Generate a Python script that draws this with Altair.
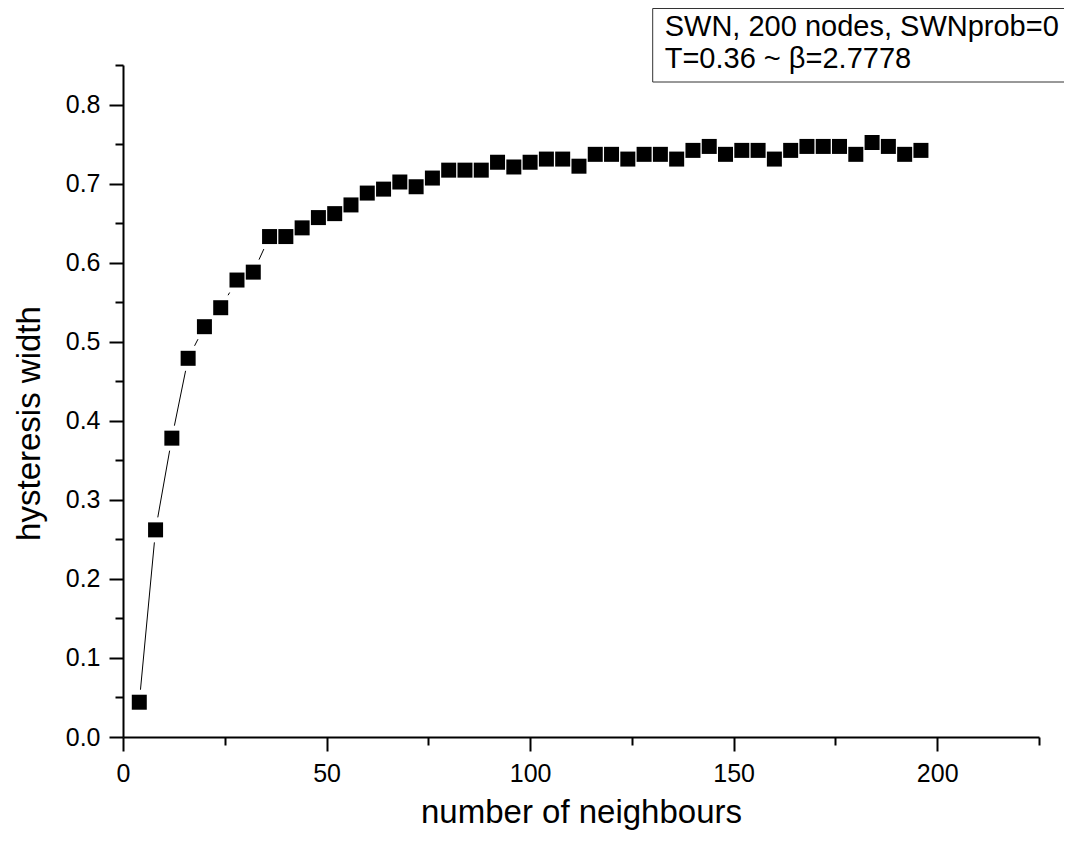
import altair as alt
import pandas as pd

# ---- data ----
neighbours = [4, 8, 12, 16, 20, 24, 28, 32, 36, 40, 44, 48, 52, 56, 60, 64, 68,
              72, 76, 80, 84, 88, 92, 96, 100, 104, 108, 112, 116, 120, 124, 128,
              132, 136, 140, 144, 148, 152, 156, 160, 164, 168, 172, 176, 180, 184,
              188, 192, 196]
hyst_width = [0.044, 0.262, 0.378, 0.479, 0.519, 0.543, 0.578, 0.588, 0.633, 0.633,
              0.644, 0.657, 0.662, 0.673, 0.688, 0.693, 0.702, 0.696, 0.707, 0.717,
              0.717, 0.717, 0.727, 0.721, 0.727, 0.731, 0.731, 0.722, 0.737, 0.737,
              0.731, 0.737, 0.737, 0.731, 0.742, 0.747, 0.737, 0.742, 0.742, 0.731,
              0.742, 0.747, 0.747, 0.747, 0.737, 0.752, 0.747, 0.737, 0.742]
x_ticks = [0, 25, 50, 75, 100, 125, 150, 175, 200, 225]
y_ticks = [0.0, 0.05, 0.1, 0.15, 0.2, 0.25, 0.3, 0.35, 0.4, 0.45, 0.5, 0.55,
           0.6, 0.65, 0.7, 0.75, 0.8, 0.85]
legend_lines = ["SWN, 200 nodes, SWNprob=0", "T=0.36 ~ \u03b2=2.7778"]

FONT = "Liberation Sans"
W, H = 916, 672
TOTAL_W, TOTAL_H = 1056, 822
PAD_L, PAD_T = 115, 57

df = pd.DataFrame({"n": neighbours, "w": hyst_width})

x_axis = alt.Axis(
    values=x_ticks,
    labelExpr="datum.value % 50 == 0 ? datum.label : ''",
    tickSize={"condition": {"test": "datum.value % 50 == 0", "value": 14}, "value": 8},
    tickWidth=2, tickColor="black", domainWidth=2, domainColor="black",
    labelFont=FONT, labelFontSize=25, labelColor="black", labelPadding=10,
    labelOverlap=False, labelFlush=False, grid=False,
    title="number of neighbours", titleFont=FONT, titleFontSize=33,
    titleFontWeight="normal", titleColor="black",
    titleX=W / 2, titleY=85, titleAlign="center", titleBaseline="alphabetic",
)
y_axis = alt.Axis(
    values=y_ticks,
    labelExpr="round(datum.value * 100) % 10 == 0 ? format(datum.value, '.1f') : ''",
    tickSize={"condition": {"test": "round(datum.value * 100) % 10 == 0", "value": 14}, "value": 8},
    tickWidth=2, tickColor="black", domainWidth=2, domainColor="black",
    labelFont=FONT, labelFontSize=25, labelColor="black", labelPadding=9,
    labelOverlap=False, labelFlush=False, grid=False,
    title="hysteresis width", titleFont=FONT, titleFontSize=33,
    titleFontWeight="normal", titleColor="black",
    titleX=-84, titleY=358, titleAngle=270, titleAlign="center",
    titleBaseline="alphabetic",
)

base = alt.Chart(df).encode(
    x=alt.X("n:Q", scale=alt.Scale(domain=[0, 225], nice=False, zero=True), axis=x_axis),
    y=alt.Y("w:Q", scale=alt.Scale(domain=[0, 0.85], nice=False, zero=True), axis=y_axis),
)

line = base.mark_line(color="black", strokeWidth=1)
halo = base.mark_square(size=625, color="white", opacity=1)
pts = base.mark_square(size=225, color="black", opacity=1)

box = alt.Chart(pd.DataFrame({"k": [0]})).mark_rect(
    fill="white", stroke="#333333", strokeWidth=1
).encode(
    x=alt.value(529.7), x2=alt.value(1200), y=alt.value(-56.5), y2=alt.value(17)
)

txt1 = alt.Chart(pd.DataFrame({"t": [legend_lines[0]]})).mark_text(
    align="left", baseline="alphabetic", font=FONT, fontSize=29, color="black"
).encode(text="t:N", x=alt.value(541.7), y=alt.value(-29))
txt2 = alt.Chart(pd.DataFrame({"t": [legend_lines[1]]})).mark_text(
    align="left", baseline="alphabetic", font=FONT, fontSize=29, color="black"
).encode(text="t:N", x=alt.value(541.7), y=alt.value(3))

chart = alt.layer(line, halo, pts, box, txt1, txt2).properties(
    width=W, height=H,
    autosize=alt.AutoSizeParams(type="none"),
    padding={"left": PAD_L, "top": PAD_T, "right": TOTAL_W - PAD_L - W,
             "bottom": TOTAL_H - PAD_T - H},
    background="white",
).configure_view(stroke=None)

chart.save("out.html", embed_options={"renderer": "svg", "actions": False})
